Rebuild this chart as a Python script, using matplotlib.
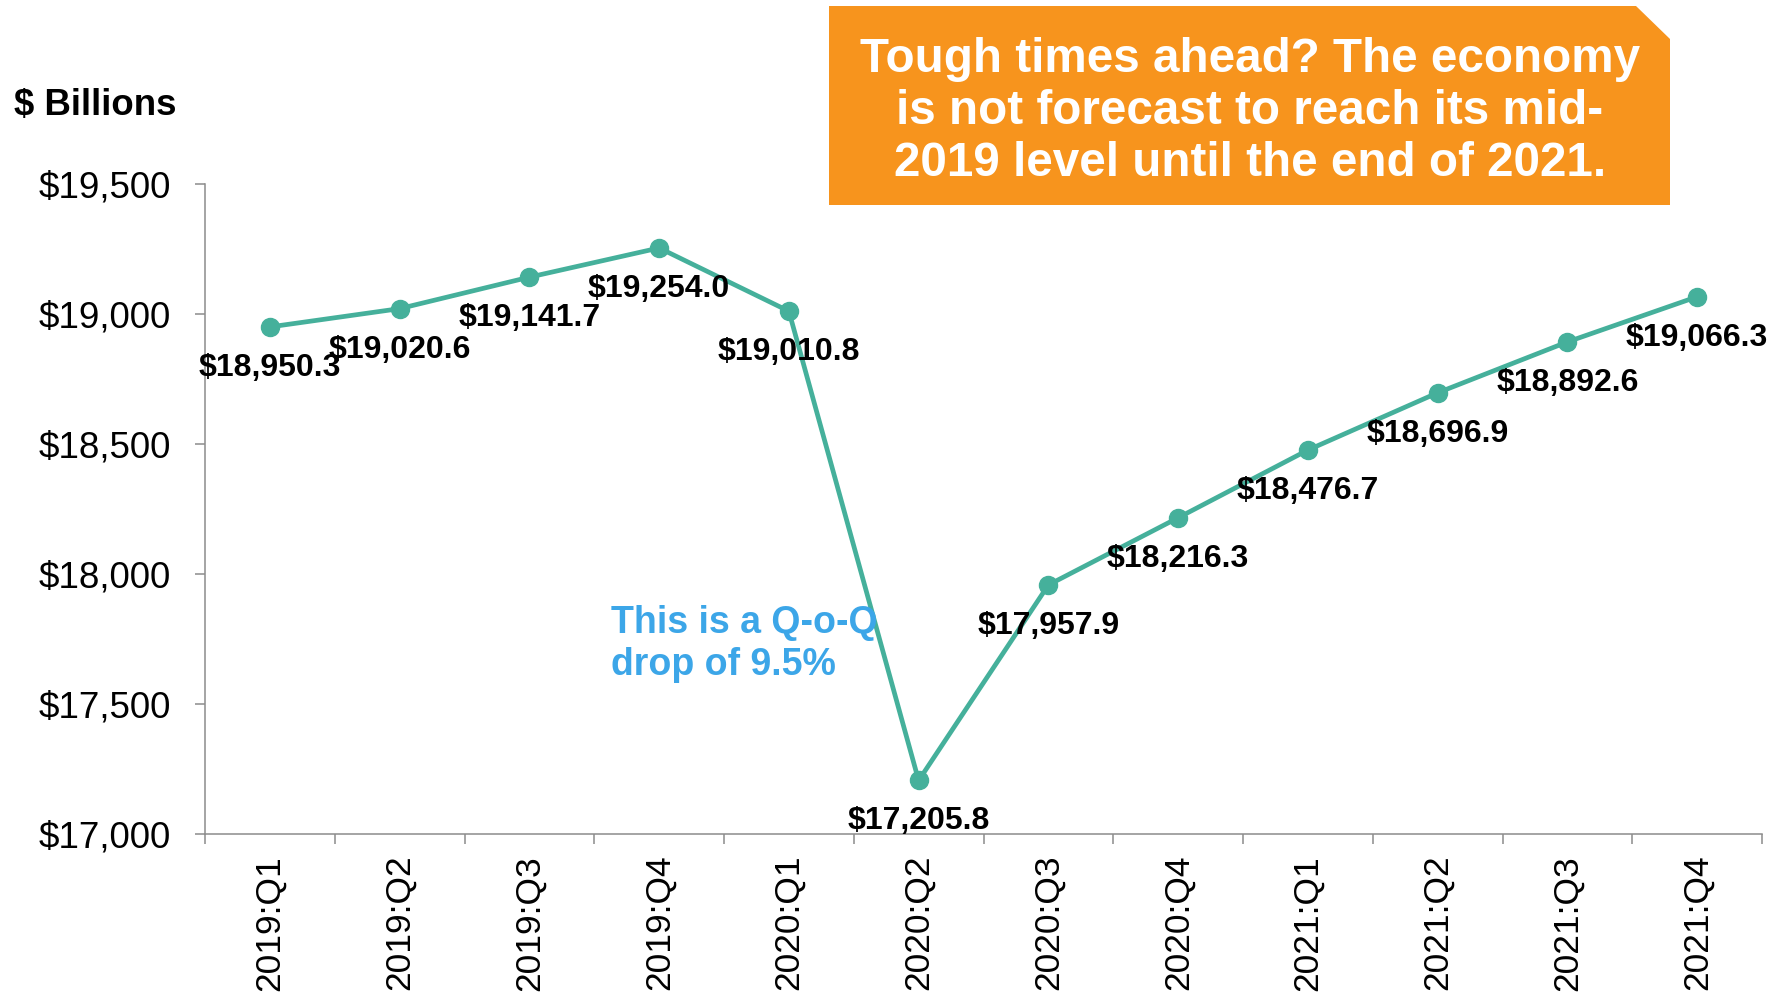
import matplotlib
matplotlib.use("Agg")
import matplotlib.pyplot as plt
from matplotlib.patches import Polygon
from matplotlib.ticker import FuncFormatter, MultipleLocator
import numpy as np

plt.rcParams['font.family'] = ['Liberation Sans', 'DejaVu Sans']

# data
quarters = ['2019:Q1', '2019:Q2', '2019:Q3', '2019:Q4',
            '2020:Q1', '2020:Q2', '2020:Q3', '2020:Q4',
            '2021:Q1', '2021:Q2', '2021:Q3', '2021:Q4']
gdp = [18950.3, 19020.6, 19141.7, 19254.0,
       19010.8, 17205.8, 17957.9, 18216.3,
       18476.7, 18696.9, 18892.6, 19066.3]

callout = "Tough times ahead? The economy\nis not forecast to reach its mid-\n2019 level until the end of 2021."
note = "This is a Q-o-Q\ndrop of 9.5%"

W, H = 1785, 998
teal = '#45B09B'
grey = '#8C8C8C'

fig = plt.figure(figsize=(W / 100, H / 100), dpi=100)
ax = fig.add_axes([205 / W, 1 - 834 / H, 1557 / W, 650 / H])

x = np.arange(len(quarters))
ax.plot(x, gdp, color=teal, lw=3.4, marker='o', ms=13, zorder=3)

for xi, v in zip(x, gdp):
    ax.annotate(f'${v:,.1f}', (xi, v), xytext=(0, -29.5), textcoords='offset points',
                ha='center', va='center', fontsize=23, fontweight='bold', color='black')

ax.set_xlim(-0.5, len(quarters) - 0.5)
ax.set_ylim(17000, 19500)
ax.yaxis.set_major_locator(MultipleLocator(500))
ax.yaxis.set_major_formatter(FuncFormatter(lambda v, p: f'${v:,.0f}'))
ax.tick_params(axis='y', labelsize=26.5, length=7.2, width=1.1, color=grey, pad=17.5)

ax.set_xticks(x)
ax.set_xticklabels(quarters, rotation=90, fontsize=25.5)
ax.set_xticks(np.arange(len(quarters) + 1) - 0.5, minor=True)
ax.tick_params(axis='x', which='major', length=0, pad=15)
ax.tick_params(axis='x', which='minor', length=7.5, width=1.1, color=grey)

for s in ['top', 'right']:
    ax.spines[s].set_visible(False)
for s in ['left', 'bottom']:
    ax.spines[s].set_color(grey)
    ax.spines[s].set_linewidth(1.1)

fig.text(14 / W, 1 - 106 / H, '$ Billions', fontsize=26.4, fontweight='bold',
         ha='left', va='center')

# orange callout box with clipped corner
pts = [(829, 6), (1636, 6), (1670, 39), (1670, 205), (829, 205)]
box = Polygon([(px / W, 1 - py / H) for px, py in pts], closed=True,
              transform=fig.transFigure, facecolor='#F7941D', edgecolor='none')
fig.patches.append(box)
fig.text(1250 / W, 1 - 111 / H, callout, fontsize=34.3, fontweight='bold', color='white',
         ha='center', va='center', linespacing=1.2)

fig.text(611 / W, 1 - 644 / H, note, fontsize=27, fontweight='bold', color='#3CA6E8',
         ha='left', va='center', linespacing=1.19)

fig.savefig('out.png', dpi=100)
